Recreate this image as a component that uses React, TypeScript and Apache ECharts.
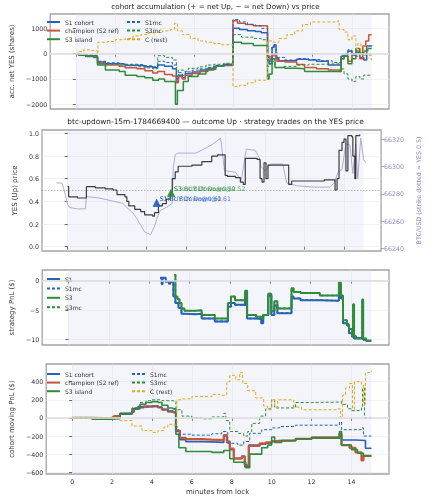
import React, { useEffect, useRef } from "react";
import * as echarts from "echarts";

type P = [number, number][];

const xTicks = [0, 2, 4, 6, 8, 10, 12, 14];
const accTicks = [-2000, -1000, 0, 1000];
const priceTicks = [0, 0.2, 0.4, 0.6, 0.8, 1.0];
const btcTicks = [66240, 66260, 66280, 66300, 66320];
const pnlTicks = [-10, -5, 0];
const cohortTicks = [-600, -400, -200, 0, 200, 400];

// panel 1: accumulated net YES (shares)
const accS1: P = [[0,0],[0.15,-50],[0.5,-80],[0.9,-100],[1.1,-330],[1.5,-400],[2.2,-420],[2.5,-460],[3.1,-480],[3.5,-520],[3.9,-560],[4.15,-450],[4.5,-500],[4.9,-600],[5.1,-1100],[5.2,-850],[5.4,-950],[5.55,-780],[5.9,-720],[6.3,-650],[6.7,-580],[7.1,-500],[7.5,-470],[7.97,1000],[8.3,950],[8.7,900],[9.1,870],[9.4,820],[9.72,-250],[9.8,-400],[9.95,250],[10.05,350],[10.15,-200],[10.3,-280],[10.8,-280],[11.2,-220],[11.8,-250],[12.2,-300],[12.8,-450],[13.4,-450],[13.45,-100],[13.6,-50],[13.8,100],[14.0,-50],[14.2,50],[14.4,-150],[14.6,-250],[14.75,300],[15.0,330]];
const accChampion: P = [[0,0],[0.15,-60],[0.5,-100],[0.9,-130],[1.1,-400],[1.5,-450],[2.2,-500],[2.5,-560],[3.1,-600],[3.5,-680],[3.9,-760],[4.15,-700],[4.5,-820],[4.9,-880],[5.1,-1150],[5.2,-900],[5.4,-1000],[5.55,-850],[5.9,-780],[6.3,-700],[6.7,-620],[7.1,-500],[7.5,-450],[7.97,1300],[8.2,1200],[8.6,1150],[9.0,1100],[9.4,1100],[9.72,-100],[9.85,-250],[9.95,0],[10.1,-100],[10.2,-300],[10.6,-330],[11.2,-430],[11.6,-550],[12.2,-600],[12.8,-650],[13.4,-700],[13.45,-200],[13.6,-100],[13.8,-300],[14.0,-50],[14.2,100],[14.4,-200],[14.55,300],[14.7,500],[14.85,750],[15.0,750]];
const accS3: P = [[0,0],[0.15,-60],[0.5,-110],[0.9,-150],[1.1,-450],[1.5,-650],[2.2,-700],[2.5,-850],[3.1,-900],[3.5,-950],[3.9,-1050],[4.2,-1000],[4.5,-1100],[5.05,-2000],[5.15,-1450],[5.45,-1100],[5.7,-900],[6.2,-800],[6.6,-650],[7.0,-500],[7.5,-420],[7.97,450],[8.4,400],[9.0,320],[9.72,-1000],[9.8,-800],[9.95,-200],[10.1,-550],[10.6,-580],[11.2,-600],[11.6,-700],[12.4,-700],[13.4,-700],[13.45,-200],[13.6,-100],[13.8,-400],[14.0,-200],[14.2,200],[14.4,0],[14.6,100],[14.8,200],[15.0,200]];
const accS1mc: P = [[0,0],[0.2,-40],[0.9,-70],[1.1,-300],[1.5,-360],[2.2,-390],[2.5,-420],[3.1,-440],[3.5,-480],[3.9,-520],[4.15,-300],[4.5,-350],[4.9,-450],[5.1,-1000],[5.2,-750],[5.4,-850],[5.55,-720],[5.9,-650],[6.3,-600],[6.7,-540],[7.1,-460],[7.5,-430],[7.97,1350],[8.3,1250],[8.7,1150],[9.1,1100],[9.4,1000],[9.72,-150],[9.8,-300],[9.95,300],[10.1,150],[10.2,-150],[10.6,-250],[11.2,-200],[11.8,-230],[12.4,-280],[13.0,-350],[13.4,-350],[13.45,-50],[13.6,0],[13.8,150],[14.0,0],[14.2,-100],[14.4,50],[14.6,-50],[15.0,-60]];
const accS3mc: P = [[0,0],[0.2,-40],[0.9,-60],[1.1,-350],[1.5,-420],[2.2,-450],[2.5,-480],[3.1,-520],[3.5,-560],[3.9,-600],[4.15,-80],[4.5,-150],[4.9,-250],[5.1,-900],[5.2,-650],[5.5,-700],[5.7,-580],[6.2,-520],[6.6,-450],[7.0,-420],[7.5,-380],[7.97,750],[8.4,650],[9.0,600],[9.4,550],[9.72,-500],[9.85,-300],[10.1,-550],[10.5,-500],[11.2,-450],[11.8,-420],[12.4,-400],[13.4,-400],[13.45,-600],[13.6,-800],[13.8,-1000],[14.0,-1100],[14.2,-900],[14.4,-1000],[14.6,-850],[15.0,-850]];
const accRest: P = [[0,0],[0.1,80],[0.4,150],[0.8,120],[1.08,0],[1.12,450],[1.6,480],[2.0,550],[2.5,600],[2.9,700],[3.3,750],[3.7,820],[4.0,850],[4.4,900],[4.8,950],[5.0,1200],[5.15,900],[5.4,750],[5.8,600],[6.2,500],[6.6,450],[7.0,400],[7.4,350],[7.97,-1300],[8.3,-1250],[8.7,-1150],[9.1,-1050],[9.5,-1050],[9.72,500],[10.0,450],[10.3,600],[10.7,750],[11.1,900],[11.5,1150],[11.9,1250],[13.3,1300],[13.35,950],[13.6,850],[13.8,550],[14.0,700],[14.2,200],[14.3,400],[14.45,-100],[14.6,300],[14.8,-200],[15.0,-260]];

// panel 2: YES price and BTC
const yesPrice: P = [[0,0.53],[0.05,0.44],[0.5,0.43],[0.95,0.53],[1.4,0.52],[1.9,0.51],[2.3,0.5],[2.5,0.46],[2.9,0.44],[3.0,0.4],[3.1,0.36],[3.4,0.33],[3.7,0.31],[3.9,0.28],[4.3,0.27],[4.4,0.3],[4.6,0.36],[4.8,0.38],[5.0,0.42],[5.2,0.48],[5.3,0.6],[5.45,0.66],[5.6,0.71],[6.3,0.72],[6.8,0.75],[7.3,0.8],[7.6,0.81],[7.98,0.63],[8.1,0.62],[8.5,0.61],[8.75,0.57],[8.9,0.55],[9.0,0.78],[9.6,0.77],[9.75,0.6],[9.85,0.57],[9.95,0.74],[10.05,0.6],[10.15,0.72],[11.2,0.55],[11.35,0.58],[12.0,0.58],[13.0,0.59],[13.55,0.5],[13.65,0.6],[13.75,0.85],[13.9,0.92],[14.0,0.95],[14.1,0.67],[14.2,0.98],[14.4,0.97],[14.45,0.8],[14.55,0.6],[14.6,0.98],[14.8,0.99]];
const btcUsd: P = [[-0.56,66288],[-0.3,66288],[-0.2,66284],[0.0,66272],[0.1,66270],[0.5,66269],[0.9,66269],[0.95,66278],[1.6,66277],[2.2,66275],[2.8,66273],[3.0,66270],[3.3,66266],[3.5,66262],[3.7,66257],[3.9,66252],[4.2,66250],[4.4,66256],[4.55,66263],[4.7,66268],[5.0,66270],[5.3,66273],[5.35,66299],[5.45,66309],[5.6,66310],[6.5,66310],[6.9,66313],[7.3,66316],[7.75,66321],[7.95,66297],[8.5,66296],[8.8,66290],[9.05,66313],[9.5,66312],[9.7,66307],[9.8,66300],[10.0,66297],[10.3,66302],[10.9,66302],[11.1,66288],[11.6,66286],[12.5,66285],[13.3,66285],[13.5,66288],[13.7,66296],[13.9,66298],[14.1,66317],[14.3,66316],[14.45,66295],[14.6,66317],[14.7,66291],[14.85,66321],[15.0,66305],[15.1,66303]];
const strikeYes = 0.5;
const tradeLabels = ["S1 BUY Down@0.61", "S1mc BUY Down@0.61", "S3 BUY Down@0.52", "S3mc BUY Down@0.52"];
const tradeT = [4.51, 4.51, 5.24, 5.24];
const tradeYes = [0.387, 0.387, 0.476, 0.476];

// panel 3: strategy PnL ($)
const pnlS1: P = [[4.54,0.5],[4.62,-0.6],[4.66,0.5],[4.82,-0.2],[4.98,-0.5],[5.05,-0.2],[5.2,-2.7],[5.3,-3.8],[5.45,-4.6],[5.6,-5.6],[5.75,-5.7],[6.3,-5.6],[6.6,-6.4],[7.25,-6.9],[7.9,-4.4],[8.05,-3.8],[8.25,-4.1],[8.7,-4.2],[8.75,-2.7],[8.85,-6.4],[9.3,-6.5],[9.55,-7.2],[9.65,-5.8],[9.9,-2.5],[10.05,-5.8],[10.2,-4.2],[10.35,-5.5],[11.05,-2.7],[11.15,-3.0],[11.5,-3.3],[12.45,-3.4],[13.4,-2.1],[13.5,-3.0],[13.6,-7.2],[13.8,-7.6],[13.9,-8.9],[14.05,-9.5],[14.15,-9.8],[14.6,-10.0],[14.75,-10.2],[15.0,-10.2]];
const pnlS3: P = [[5.25,1.0],[5.3,-2.7],[5.4,-3.1],[5.5,-3.8],[5.6,-4.7],[5.75,-5.1],[6.3,-5.0],[6.6,-5.8],[7.25,-6.4],[7.9,-3.8],[8.05,-2.7],[8.25,-3.3],[8.7,-3.3],[8.75,-1.7],[8.85,-5.8],[9.3,-6.1],[9.55,-6.4],[9.65,-5.8],[9.9,-2.2],[10.05,-5.2],[10.2,-3.5],[10.35,-4.7],[11.05,-1.3],[11.15,-1.9],[11.5,-2.1],[12.45,-2.5],[13.4,-0.3],[13.5,-2.5],[13.6,-6.7],[13.8,-7.4],[13.9,-8.2],[14.05,-9.2],[14.1,-4.0],[14.15,-9.4],[14.25,-9.7],[14.55,-3.2],[14.6,-9.8],[14.75,-10.2],[15.0,-10.3]];

// panel 4: cohort moving PnL ($)
const cpS1: P = [[0,0],[1.0,-5],[2.0,5],[2.1,20],[2.4,50],[3.0,70],[3.1,105],[3.3,125],[3.6,130],[4.0,135],[4.3,120],[4.5,95],[4.8,75],[5.05,65],[5.2,-150],[5.4,-240],[5.7,-262],[6.5,-265],[7.0,-270],[7.6,-200],[7.75,-270],[7.9,-350],[8.1,-445],[8.5,-420],[8.65,-540],[8.85,-300],[9.4,-290],[9.7,-280],[10.0,-262],[10.3,-250],[11.2,-235],[12.0,-225],[13.4,-180],[13.5,-243],[14.2,-250],[14.7,-335],[15.0,-335]];
const cpChampion: P = [[0,0],[1.0,-5],[2.0,5],[2.1,20],[2.4,45],[3.0,65],[3.1,100],[3.3,115],[3.6,125],[4.0,130],[4.3,115],[4.5,90],[4.8,70],[5.05,60],[5.2,-140],[5.4,-220],[5.7,-235],[6.5,-240],[7.0,-245],[7.6,-190],[7.75,-260],[7.9,-340],[8.1,-450],[8.5,-430],[8.65,-520],[8.85,-310],[9.4,-280],[9.7,-270],[10.0,-255],[10.3,-250],[11.2,-230],[12.0,-215],[13.4,-170],[13.5,-300],[13.9,-330],[14.2,-380],[14.5,-470],[14.6,-420],[15.0,-420]];
const cpS3: P = [[0,0],[1.0,-15],[2.0,-10],[2.4,40],[3.0,100],[3.4,150],[3.7,170],[4.0,180],[4.3,170],[4.5,140],[4.8,110],[5.05,100],[5.2,-180],[5.35,-330],[5.7,-370],[7.0,-380],[7.6,-360],[7.9,-450],[8.1,-490],[8.7,-550],[8.9,-400],[9.5,-330],[9.8,-300],[10.0,-210],[10.15,-270],[10.5,-250],[11.2,-230],[12.0,-220],[13.4,-150],[13.5,-300],[14.0,-350],[14.3,-390],[14.6,-420],[15.0,-420]];
const cpS1mc: P = [[0,0],[1.0,-5],[2.0,5],[2.4,45],[3.0,65],[3.1,100],[3.3,120],[3.6,125],[4.0,130],[4.3,115],[4.5,90],[4.8,70],[5.05,60],[5.2,-100],[5.3,-180],[6.0,-190],[7.0,-175],[7.5,-150],[7.8,-280],[8.3,-300],[8.6,-260],[8.9,-170],[9.5,-130],[10.0,-110],[10.4,-95],[11.2,-80],[13.4,-45],[13.5,-130],[14.5,-110],[14.6,-200],[15.0,-205]];
const cpS3mc: P = [[0,0],[1.0,-10],[2.0,0],[2.4,50],[3.0,110],[3.4,170],[3.7,190],[4.0,200],[4.5,190],[5.0,185],[5.2,90],[5.5,20],[6.0,0],[6.5,-10],[7.0,10],[7.6,50],[7.7,-30],[7.9,-150],[8.3,-170],[8.6,-200],[8.8,-150],[9.0,-60],[9.4,20],[9.7,100],[10.0,200],[10.15,110],[11.2,170],[12.0,175],[13.4,180],[13.5,150],[13.8,100],[14.0,80],[14.5,120],[14.55,330],[14.65,0],[15.0,-5]];
const cpRest: P = [[0,0],[2.4,-30],[3.0,-90],[3.5,-140],[4.0,-160],[4.3,-140],[4.6,-100],[4.8,-70],[5.0,-80],[5.25,200],[5.5,210],[6.0,235],[7.0,260],[7.4,250],[7.75,400],[7.9,470],[8.2,420],[8.4,500],[8.55,380],[8.8,300],[9.2,220],[9.6,130],[9.8,90],[10.0,200],[10.15,120],[10.3,200],[11.1,120],[11.5,90],[13.3,100],[13.45,0],[13.55,250],[13.7,330],[13.9,380],[14.05,100],[14.15,400],[14.5,370],[14.6,150],[14.7,500],[15.0,520]];

const BLUE = "#2a62b8";
const RED = "#c9553a";
const GREEN = "#2f8c3c";
const GOLD = "#e3a81c";
const PRICE = "#3d3d3d";
const BTC = "#b5a8d8";
const PURPLE = "#9a86c6";
const FONT = "DejaVu Sans";

const minus = (v: number) => (v < 0 ? "\u2212" + Math.abs(v) : String(v));

function line(name: string, data: P, color: string, gi: number, yi: number, width: number, dashed: boolean, extra: any = {}) {
  return {
    type: "line",
    name,
    data,
    xAxisIndex: gi,
    yAxisIndex: yi,
    step: "end",
    symbol: "none",
    showSymbol: false,
    color,
    lineStyle: { color, width, type: dashed ? [3, 2] : "solid" },
    silent: true,
    ...extra,
  };
}

function backdrop(gi: number, yi: number, refY: number | null, dotted: boolean) {
  const s: any = {
    type: "line",
    name: "_bg" + gi,
    data: [],
    xAxisIndex: gi,
    yAxisIndex: yi,
    z: 0,
    silent: true,
    markArea: {
      silent: true,
      itemStyle: { color: "rgba(205,215,240,0.24)" },
      data: [[{ xAxis: 0 }, { xAxis: 15 }]],
    },
  };
  if (refY !== null) {
    s.markLine = {
      silent: true,
      symbol: "none",
      label: { show: false },
      lineStyle: dotted
        ? { color: "#aaaaaa", width: 0.8, type: [1.5, 1.5] }
        : { color: "#dcdcdc", width: 1.6, type: "solid" },
      data: [{ yAxis: refY }],
    };
  }
  return s;
}

const grids = [
  { top: 14, height: 95 },
  { top: 130, height: 121 },
  { top: 270, height: 75 },
  { top: 364, height: 110 },
];

export default function App() {
  const ref = useRef<HTMLDivElement>(null);
  useEffect(() => {
    if (!ref.current) return;
    const chart = echarts.init(ref.current, null, { renderer: "svg" });

    const xAxis = grids.map((_, i) => ({
      type: "value",
      gridIndex: i,
      min: -1.3,
      max: 15.88,
      axisLine: { show: false },
      axisTick: { show: true, customValues: xTicks, length: 3, lineStyle: { color: "#444", width: 0.8 } },
      axisLabel: { show: i === 3, customValues: xTicks, fontSize: 6.3, color: "#333", margin: 4, fontFamily: FONT },
      splitLine: { show: true, lineStyle: { color: "#e9e9e9", width: 0.6 } },
      name: i === 3 ? "minutes from lock" : "",
      nameLocation: "middle",
      nameGap: 14,
      nameTextStyle: { fontSize: 7, color: "#333", fontFamily: FONT },
    }));

    const yBase = (gi: number, min: number, max: number, ticks: number[], name: string, gap: number, fmt: any) => ({
      type: "value",
      gridIndex: gi,
      min,
      max,
      axisLine: { show: false },
      axisTick: { show: true, customValues: ticks, length: 3, lineStyle: { color: "#444", width: 0.8 } },
      axisLabel: { customValues: ticks, fontSize: 6.3, color: "#333", margin: 3, formatter: fmt, fontFamily: FONT },
      splitLine: { show: true, lineStyle: { color: "#e9e9e9", width: 0.6 } },
      name,
      nameLocation: "middle",
      nameGap: gap,
      nameTextStyle: { fontSize: 7, color: "#333", fontFamily: FONT },
    });

    const yAxis: any[] = [
      yBase(0, -2185, 1565, accTicks, "acc. net YES (shares)", 34, minus),
      yBase(1, -0.038, 1.03, priceTicks, "YES (Up) price", 21, (v: number) => v.toFixed(1)),
      {
        type: "value",
        gridIndex: 1,
        position: "right",
        min: 66238,
        max: 66327,
        axisLine: { show: false },
        axisTick: { show: true, customValues: btcTicks, length: 3, lineStyle: { color: PURPLE, width: 0.8 } },
        axisLabel: { customValues: btcTicks, fontSize: 6.3, color: PURPLE, margin: 3, fontFamily: FONT, formatter: (v: number) => String(v) },
        splitLine: { show: false },
        name: "BTC/USD (strike dotted = YES 0.5)",
        nameLocation: "middle",
        nameGap: 32,
        nameTextStyle: { fontSize: 6.3, color: PURPLE, fontFamily: FONT },
      },
      yBase(2, -10.9, 1.81, pnlTicks, "strategy PnL ($)", 24, minus),
      yBase(3, -619, 595, cohortTicks, "cohort moving PnL ($)", 29, minus),
    ];

    const trades = tradeLabels.map((lab, i) => ({
      type: "scatter",
      name: lab,
      xAxisIndex: 1,
      yAxisIndex: 1,
      symbol: "triangle",
      symbolSize: 8,
      z: 5,
      silent: true,
      itemStyle: { color: i < 2 ? BLUE : GREEN },
      data: [[tradeT[i], tradeYes[i]]],
      label: {
        show: true,
        formatter: lab,
        position: "right",
        distance: 0,
        offset: [-1, -4],
        fontSize: 6.2,
        color: i < 2 ? BLUE : GREEN,
        fontFamily: FONT,
      },
    }));

    const series: any[] = [
      backdrop(0, 0, 0, false),
      line("S1 cohort", accS1, BLUE, 0, 0, 1.5, false),
      line("champion (S2 ref)", accChampion, RED, 0, 0, 1.5, false),
      line("S3 island", accS3, GREEN, 0, 0, 1.5, false),
      line("S1mc", accS1mc, BLUE, 0, 0, 1, true),
      line("S3mc", accS3mc, GREEN, 0, 0, 1, true),
      line("C (rest)", accRest, GOLD, 0, 0, 1, true),

      backdrop(1, 1, strikeYes, true),
      { ...line("BTC/USD", btcUsd, BTC, 1, 2, 1, false), step: false },
      line("YES price", yesPrice, PRICE, 1, 1, 1.2, false),
      ...trades,

      backdrop(2, 3, 0, false),
      line("S1", pnlS1, BLUE, 2, 3, 2, false),
      line("S1mc", pnlS1, BLUE, 2, 3, 1.6, true),
      line("S3", pnlS3, GREEN, 2, 3, 2, false),
      line("S3mc", pnlS3, GREEN, 2, 3, 1.6, true),

      backdrop(3, 4, 0, false),
      line("S1 cohort", cpS1, BLUE, 3, 4, 1.6, false),
      line("champion (S2 ref)", cpChampion, RED, 3, 4, 2.2, false),
      line("S3 island", cpS3, GREEN, 3, 4, 1.6, false),
      line("S1mc", cpS1mc, BLUE, 3, 4, 1, true),
      line("S3mc", cpS3mc, GREEN, 3, 4, 1, true),
      line("C (rest)", cpRest, GOLD, 3, 4, 1, true),
    ];

    const legendBase = {
      orient: "vertical",
      itemWidth: 13,
      itemHeight: 6,
      itemGap: 2.6,
      padding: 0,
      selectedMode: false,
      itemStyle: { color: "rgba(0,0,0,0)", borderColor: "rgba(0,0,0,0)", borderWidth: 0, opacity: 0 },
      textStyle: { fontSize: 6, color: "#333", fontFamily: FONT },
    };

    chart.setOption({
      animation: false,
      textStyle: { fontFamily: FONT },
      title: [
        {
          text: "cohort accumulation (+ = net Up, \u2212 = net Down) vs price",
          left: 215.5,
          top: 3,
          padding: 0,
          textAlign: "center",
          textStyle: { fontSize: 7.2, fontWeight: "normal", color: "#222", fontFamily: FONT },
        },
        {
          text: "btc-updown-15m-1784669400 \u2014 outcome Up \u00b7 strategy trades on the YES price",
          left: 215.5,
          top: 118,
          padding: 0,
          textAlign: "center",
          textStyle: { fontSize: 7.4, fontWeight: "normal", color: "#222", fontFamily: FONT },
        },
      ],
      grid: grids.map((g) => ({
        left: 42,
        width: 347,
        top: g.top,
        height: g.height,
        show: true,
        backgroundColor: "#ffffff",
        borderColor: "#a3a3a3",
        borderWidth: 1.3,
      })),
      legend: [
        { ...legendBase, left: 46, top: 19, data: ["S1 cohort", "champion (S2 ref)", "S3 island"] },
        { ...legendBase, left: 126, top: 19, data: ["S1mc", "S3mc", "C (rest)"] },
        { ...legendBase, left: 46, top: 276, itemGap: 3.4, data: ["S1", "S1mc", "S3", "S3mc"] },
        { ...legendBase, left: 46, top: 371, data: ["S1 cohort", "champion (S2 ref)", "S3 island"] },
        { ...legendBase, left: 131, top: 371, data: ["S1mc", "S3mc", "C (rest)"] },
      ],
      xAxis,
      yAxis,
      series,
    });
    return () => chart.dispose();
  }, []);
  return <div ref={ref} style={{ position: "fixed", left: 0, top: 0, width: 429, height: 500 }} />;
}
